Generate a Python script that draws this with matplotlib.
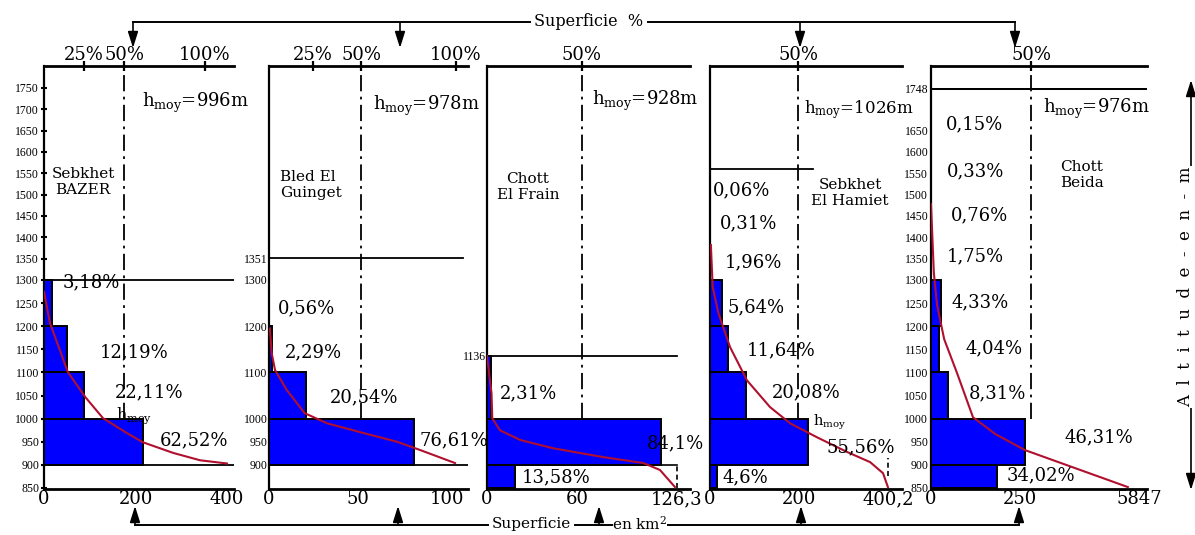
import numpy as np
import matplotlib.pyplot as plt
from matplotlib.ticker import NullLocator

plt.rcParams['font.family'] = ['DejaVu Serif']
plt.rcParams['mathtext.fontset'] = 'dejavuserif'

W, H = 1195, 535
BLUE = '#0000ff'
RED = '#b0102e'

# ---------------- data ----------------
# Sebkhet BAZER
bazer_lo = [900, 1000, 1100, 1200]
bazer_hi = [1000, 1100, 1200, 1300]
bazer_area = [216, 87, 50, 17]
bazer_pct = ['62,52%', '22,11%', '12,19%', '3,18%']
bazer_cx = [0, 13, 52, 90, 129, 181, 216, 282, 341, 400]
bazer_ch = [1275, 1207, 1101, 1047, 1001, 969, 949, 926, 910, 903]

# Bled El Guinget
guin_lo = [900, 1000, 1100, 1200]
guin_hi = [1000, 1100, 1200, 1351]
guin_area = [81.5, 20.8, 1.7, 0]
guin_pct = ['76,61%', '20,54%', '2,29%', '0,56%']
guin_cx = [0.5, 1.5, 3.4, 10, 20, 32.6, 53, 72, 85, 104.5]
guin_ch = [1195, 1142, 1105, 1062, 1012, 990, 969, 950, 932, 904]

# Chott El Frain
frain_lo = [850, 900, 1000]
frain_hi = [900, 1000, 1136]
frain_area = [18.6, 115.7, 2.5]
frain_pct = ['13,58%', '84,1%', '2,31%']
frain_cx = [0, 3, 3.5, 8.6, 22, 44, 77, 104, 115, 125]
frain_ch = [1136, 1055, 1001, 975, 954, 936, 917, 904, 889, 852]

# Sebkhet El Hamiet
ham_lo = [850, 900, 1000, 1100, 1200, 1300, 1400, 1500]
ham_hi = [900, 1000, 1100, 1200, 1300, 1400, 1500, 1560]
ham_area = [15, 220, 81, 41, 26.5, 0, 0, 0]
ham_pct = ['4,6%', '55,56%', '20,08%', '11,64%', '5,64%', '1,96%', '0,31%', '0,06%']
ham_cx = [2, 6, 19, 45, 83, 135, 180, 240, 308, 360, 389, 400]
ham_ch = [1382, 1285, 1228, 1155, 1083, 1025, 990, 960, 928, 906, 882, 852]

# Chott Beida
beida_lo = [850, 900, 1000, 1100, 1200, 1300, 1400, 1500, 1600]
beida_hi = [900, 1000, 1100, 1200, 1300, 1400, 1500, 1600, 1748]
beida_area = [186, 264, 48, 22.5, 29, 0, 0, 0, 0]
beida_pct = ['34,02%', '46,31%', '8,31%', '4,04%', '4,33%', '1,75%', '0,76%', '0,33%', '0,15%']
beida_cx = [0, 8, 17, 37, 73, 118, 180, 264, 553]
beida_ch = [1478, 1317, 1246, 1172, 1099, 1003, 967, 932, 852]

# ---------------- layout (pixels of the 1195x535 picture) ----------------
panels = [
    dict(lo=bazer_lo, hi=bazer_hi, area=bazer_area, pct=bazer_pct, cx=bazer_cx, ch=bazer_ch,
         L=44, R=234, scale=0.4575, mid=175, limit=1300, limit_to=None, base900=True,
         bt=[0, 200, 400], btl=['0', '200', '400'],
         tt=[87, 175, 352], ttl=['25%', '50%', '100%'],
         yt=list(range(850, 1751, 50)), ytick_len=5,
         name='Sebkhet\nBAZER', name_xy=(83, 182), name_ha='center',
         hmoy='996m', hmoy_xy=(142, 107), hmoy_size=13,
         lab_xy=[(160, 440), (115, 392), (100, 352), (63, 282)]),
    dict(lo=guin_lo, hi=guin_hi, area=guin_area, pct=guin_pct, cx=guin_cx, ch=guin_ch,
         L=269, R=468, scale=1.78, mid=51.7, limit=1351, limit_to=109, base900=True,
         bt=[0, 50, 100], btl=['0', '50', '100'],
         tt=[24.7, 51.7, 105], ttl=['25%', '50%', '100%'],
         yt=[900, 950, 1000, 1100, 1200, 1300, 1351], ytick_len=0,
         name='Bled El\nGuinget', name_xy=(280, 185), name_ha='left',
         hmoy='978m', hmoy_xy=(373, 110), hmoy_size=13,
         lab_xy=[(420, 440), (330, 397), (285, 352), (278, 308)]),
    dict(lo=frain_lo, hi=frain_hi, area=frain_area, pct=frain_pct, cx=frain_cx, ch=frain_ch,
         L=487, R=690, scale=1.504, mid=63, limit=1136, limit_to=126.3, base900=False,
         bt=[0, 60, 126.3], btl=['0', '60', '126,3'],
         tt=[63], ttl=['50%'],
         yt=[1136], ytick_len=0,
         name='Chott\nEl Frain', name_xy=(528, 187), name_ha='center',
         hmoy='928m', hmoy_xy=(592, 105), hmoy_size=13,
         lab_xy=[(522, 477), (647, 443), (500, 393)]),
    dict(lo=ham_lo, hi=ham_hi, area=ham_area, pct=ham_pct, cx=ham_cx, ch=ham_ch,
         L=710, R=902, scale=0.4448, mid=198, limit=1560, limit_to=232, base900=False,
         bt=[0, 200, 400.2], btl=['0', '200', '400,2'],
         tt=[198], ttl=['50%'],
         yt=[], ytick_len=0,
         name='Sebkhet\nEl Hamiet', name_xy=(850, 193), name_ha='center',
         hmoy='1026m', hmoy_xy=(804, 113), hmoy_size=12,
         lab_xy=[(723, 477), (827, 447), (772, 392), (747, 350), (728, 307),
                 (725, 262), (720, 223), (713, 190)]),
    dict(lo=beida_lo, hi=beida_hi, area=beida_area, pct=beida_pct, cx=beida_cx, ch=beida_ch,
         L=931, R=1147, scale=0.356, mid=281, limit=1748, limit_to=None, base900=False,
         bt=[0, 250, 584.7], btl=['0', '250', '5847'],
         tt=[281], ttl=['50%'],
         yt=list(range(850, 1651, 50)) + [1748], ytick_len=2,
         name='Chott\nBeida', name_xy=(1060, 175), name_ha='left',
         hmoy='976m', hmoy_xy=(1043, 113), hmoy_size=13,
         lab_xy=[(1007, 475), (1065, 437), (969, 393), (966, 348), (952, 302),
                 (947, 256), (951, 215), (947, 171), (946, 124)]),
]

# altitude axis of the drawing is not linear: compressed above 1300 m
alt_pts = [700, 850, 1300, 1750, 1900]
pix_pts = [-69.4, 0, 208, 400, 464]


def fwd(a):
    return np.interp(a, alt_pts, pix_pts)


def inv(p):
    return np.interp(p, pix_pts, alt_pts)


Y_BOT, Y_TOP = 489, 66
ylim = (inv(488 - Y_BOT), inv(488 - Y_TOP))

fig = plt.figure(figsize=(W / 100, H / 100), dpi=100)
axes = []

for p in panels:
    ax = fig.add_axes([p['L'] / W, (H - Y_BOT) / H, (p['R'] - p['L']) / W, (Y_BOT - Y_TOP) / H])
    axes.append(ax)
    ax.set_yscale('function', functions=(fwd, inv))
    ax.set_ylim(*ylim)
    xmax = (p['R'] - p['L']) / p['scale']
    ax.set_xlim(0, xmax)

    lo = np.array(p['lo'])
    hi = np.array(p['hi'])
    area = np.array(p['area'])
    keep = area > 0
    ax.barh(lo[keep], area[keep], height=(hi - lo)[keep], align='edge',
            color=BLUE, edgecolor='black', linewidth=1.4, zorder=3)

    # limit lines
    ax.plot([0, p['limit_to'] if p['limit_to'] else xmax], [p['limit'], p['limit']],
            color='black', lw=1.3, zorder=2)
    if p['base900']:
        ax.plot([0, xmax], [900, 900], color='black', lw=1.3, zorder=2)

    # 50 % line
    ax.plot([p['mid'], p['mid']], [1000, ylim[1]], color='black', lw=1.3,
            ls=(0, (9, 3, 1.5, 3)), zorder=1)

    # hypsometric curve
    ax.plot(p['cx'], p['ch'], color=RED, lw=1.5, zorder=4)

    for s in ['right', 'top']:
        ax.spines[s].set_visible(False)
    ax.spines['left'].set_linewidth(1.6)
    ax.spines['bottom'].set_linewidth(2.0)

    ax.set_xticks(p['bt'], p['btl'])
    ax.tick_params(axis='x', length=0, pad=1, labelsize=13)
    ax.yaxis.set_minor_locator(NullLocator())
    ax.set_yticks(p['yt'], [str(v) for v in p['yt']])
    ax.tick_params(axis='y', direction='inout', length=p['ytick_len'], width=1.5, pad=1,
                   labelsize=8.5, labelfontfamily='Liberation Serif')

    sec = ax.secondary_xaxis('top')
    sec.set_xticks(p['tt'], p['ttl'])
    sec.tick_params(direction='inout', length=7, width=1.6, pad=-2, labelsize=13)
    sec.spines['top'].set_linewidth(2.0)
    ax.patch.set_alpha(0)

# panel-specific extras
ax3 = axes[2]
ax3.plot([frain_area[0], 126.3], [900, 900], color='black', lw=1.2, zorder=2)
ax3.plot([126.3, 126.3], [850, 900], color='black', lw=1.2, ls=(0, (3, 2)), zorder=2)
ax4 = axes[3]
ax4.plot([400.2, 400.2], [875, 915], color='black', lw=1.2, ls=(0, (3, 2)), zorder=2)
ax5 = axes[4]
ax5.plot([0, ax5.get_xlim()[1]], [1748, 1748], color='black', lw=1.4, zorder=2)

# ---------------- overlay for texts and brackets ----------------
ov = fig.add_axes([0, 0, 1, 1])
ov.set_xlim(0, W)
ov.set_ylim(H, 0)
ov.axis('off')

for p in panels:
    for (x, y), s in zip(p['lab_xy'], p['pct']):
        ov.text(x, y, s, fontsize=13, ha='left', va='center', zorder=5)
    ov.text(p['name_xy'][0], p['name_xy'][1], p['name'], fontsize=11, ha=p['name_ha'],
            va='center', multialignment=p['name_ha'], linespacing=1.15)
    ov.text(p['hmoy_xy'][0], p['hmoy_xy'][1], r'h$_{\mathregular{moy}}$=' + p['hmoy'],
            fontsize=p['hmoy_size'], ha='left', va='baseline')

ov.text(116, 419, r'h$_{\mathregular{moy}}$', fontsize=11.5, ha='left', va='baseline', zorder=5)
ov.text(813, 426, r'h$_{\mathregular{moy}}$', fontsize=10.5, ha='left', va='baseline', zorder=5)

arrow = dict(arrowstyle='-|>,head_length=0.7,head_width=0.22', color='black', lw=1.2,
             mutation_scale=14, shrinkA=0, shrinkB=0)

# top bracket
ov.plot([133, 530], [22, 22], color='black', lw=1.4)
ov.plot([648, 1015], [22, 22], color='black', lw=1.4)
ov.text(589, 22, 'Superficie  %', fontsize=11.5, ha='center', va='center')
for x in [133, 400, 800, 1015]:
    ov.annotate('', xy=(x, 48), xytext=(x, 22), arrowprops=arrow)

# bottom bracket
YB = 525
ov.plot([135, 488], [YB, YB], color='black', lw=1.4)
ov.plot([575, 612], [YB, YB], color='black', lw=1.4)
ov.plot([668, 1019], [YB, YB], color='black', lw=1.4)
ov.text(531, YB - 1, 'Superficie', fontsize=11, ha='center', va='center')
ov.text(640, YB - 1, 'en km$^2$', fontsize=11, ha='center', va='center')
for x in [135, 398, 599, 801, 1019]:
    ov.annotate('', xy=(x, 506), xytext=(x, YB), arrowprops=arrow)

# altitude arrow on the right
ov.annotate('', xy=(1191, 80), xytext=(1191, 287), arrowprops=arrow)
ov.annotate('', xy=(1191, 490), xytext=(1191, 287), arrowprops=arrow)
ov.text(1186, 287, 'A  l  t  i  t  u  d  e  -  e  n  -  m', rotation=90, fontsize=12,
        ha='center', va='center', bbox=dict(facecolor='white', edgecolor='none', pad=0.5))

fig.savefig('out.png', dpi=100)
